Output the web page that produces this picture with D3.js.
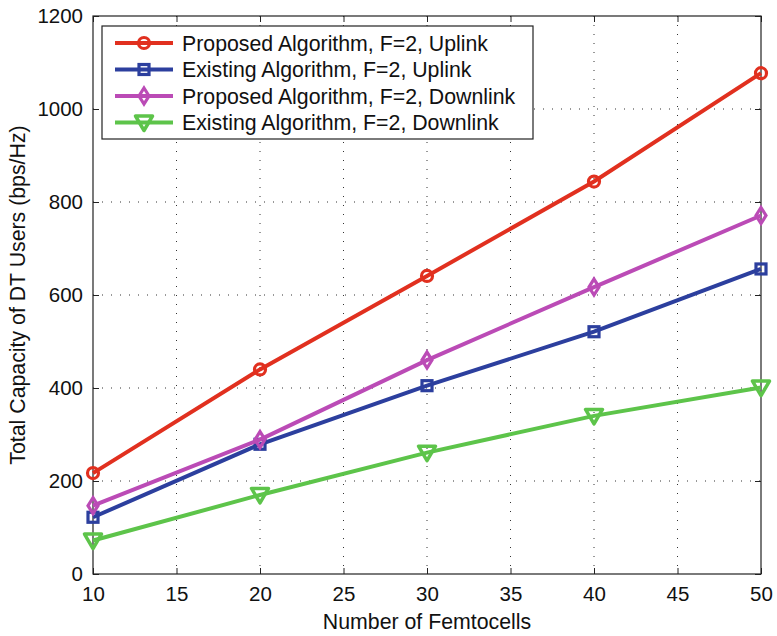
<!DOCTYPE html>
<html><head><meta charset="utf-8">
<script src="https://cdn.jsdelivr.net/npm/d3@7"></script>
<style>body{margin:0;background:#fff}svg{display:block}</style>
</head><body><svg id="c" width="777" height="636"></svg>
<script>
const femtocells = [10, 20, 30, 40, 50];
const proposedUplink = [217, 440, 641, 844, 1077];
const existingUplink = [122, 279, 405, 521, 656];
const proposedDownlink = [147, 289, 460, 617, 771];
const existingDownlink = [72, 170, 261, 340, 401];
const xTicks = [10, 15, 20, 25, 30, 35, 40, 45, 50];
const yTicks = [0, 200, 400, 600, 800, 1000, 1200];
const seriesNames = ["Proposed Algorithm, F=2, Uplink","Existing Algorithm, F=2, Uplink","Proposed Algorithm, F=2, Downlink","Existing Algorithm, F=2, Downlink"];
const seriesColors = ["#e1301f","#2c3f9e","#bb4bb6","#5dc44a"];
const seriesMarkers = ["circle","square","diamond","triangle"];
const seriesValues = [proposedUplink, existingUplink, proposedDownlink, existingDownlink];

(function(){
const svg = d3.select("#c");
const L = 93, R = 761, T = 16, B = 574;
const x = d3.scaleLinear().domain([10, 50]).range([L, R]);
const y = d3.scaleLinear().domain([0, 1200]).range([B, T]);
const font = "'Liberation Sans', Arial, Helvetica, sans-serif";

// grid
const g = svg.append("g");
g.selectAll(".gx").data(xTicks.slice(1, -1)).enter().append("line")
  .attr("x1", d => x(d)).attr("x2", d => x(d)).attr("y1", T).attr("y2", B)
  .attr("stroke", "#333").attr("stroke-width", 1).attr("stroke-dasharray", "1,8");
g.selectAll(".gy").data(yTicks.slice(1, -1)).enter().append("line")
  .attr("y1", d => y(d)).attr("y2", d => y(d)).attr("x1", L).attr("x2", R)
  .attr("stroke", "#333").attr("stroke-width", 1).attr("stroke-dasharray", "1,8");

// axes with inward ticks
const ax = svg.append("g").attr("font-family", font);
ax.append("g").attr("transform", `translate(0,${B})`)
  .call(d3.axisBottom(x).tickValues(xTicks).tickSize(-6).tickPadding(12).tickFormat(d3.format("d")));
ax.append("g").attr("transform", `translate(0,${T})`)
  .call(d3.axisTop(x).tickValues(xTicks).tickSize(-6).tickFormat(""));
ax.append("g").attr("transform", `translate(${L},0)`)
  .call(d3.axisLeft(y).tickValues(yTicks).tickSize(-6).tickPadding(10).tickFormat(d3.format("d")));
ax.append("g").attr("transform", `translate(${R},0)`)
  .call(d3.axisRight(y).tickValues(yTicks).tickSize(-6).tickFormat(""));
ax.selectAll(".tick line").attr("stroke", "#222");
ax.selectAll(".tick text").attr("font-size", 20.5).attr("fill", "#111").attr("font-family", font);
ax.selectAll(".domain").remove();
svg.append("rect").attr("x", L).attr("y", T).attr("width", R - L).attr("height", B - T)
  .attr("fill", "none").attr("stroke", "#222").attr("stroke-width", 1.2);

// labels
svg.append("text").attr("x", (L + R) / 2).attr("y", 629).attr("text-anchor", "middle")
  .attr("font-family", font).attr("font-size", 21.3).attr("fill", "#111").text("Number of Femtocells");
svg.append("text").attr("transform", `translate(25,${(T + B) / 2}) rotate(-90)`).attr("text-anchor", "middle")
  .attr("font-family", font).attr("font-size", 21.3).attr("fill", "#111").text("Total Capacity of DT Users (bps/Hz)");

function marker(sel, type, color) {
  if (type === "circle") sel.append("circle").attr("r", 5.5).attr("fill", "none").attr("stroke", color).attr("stroke-width", 3.2);
  else if (type === "square") sel.append("rect").attr("x", -5).attr("y", -5).attr("width", 10).attr("height", 10).attr("fill", "none").attr("stroke", color).attr("stroke-width", 3.2);
  else if (type === "diamond") sel.append("path").attr("d", "M0,-8L5,0L0,8L-5,0Z").attr("fill", "none").attr("stroke", color).attr("stroke-width", 3.2);
  else sel.append("path").attr("d", "M-8.5,-6.5L8.5,-6.5L0,8Z").attr("fill", "none").attr("stroke", color).attr("stroke-width", 3.5).attr("stroke-linejoin", "round");
}

const line = d3.line().x((d, i) => x(femtocells[i])).y(d => y(d));
seriesValues.forEach((vals, s) => {
  svg.append("path").attr("d", line(vals)).attr("fill", "none")
    .attr("stroke", seriesColors[s]).attr("stroke-width", 4);
  vals.forEach((v, i) => {
    const m = svg.append("g").attr("transform", `translate(${x(femtocells[i])},${y(v)})`);
    marker(m, seriesMarkers[s], seriesColors[s]);
  });
});

// legend
const lg = svg.append("g");
lg.append("rect").attr("x", 102).attr("y", 26).attr("width", 431).attr("height", 113)
  .attr("fill", "#fff").attr("stroke", "#222").attr("stroke-width", 1.2);
seriesNames.forEach((name, s) => {
  const yy = 43 + s * 26.5;
  lg.append("line").attr("x1", 115).attr("x2", 173).attr("y1", yy).attr("y2", yy)
    .attr("stroke", seriesColors[s]).attr("stroke-width", 4);
  marker(lg.append("g").attr("transform", `translate(144,${yy})`), seriesMarkers[s], seriesColors[s]);
  lg.append("text").attr("x", 182).attr("y", yy + 7.5).attr("font-family", font).attr("font-size", 21.3)
    .attr("fill", "#111").text(name);
});
})();
</script></body></html>
